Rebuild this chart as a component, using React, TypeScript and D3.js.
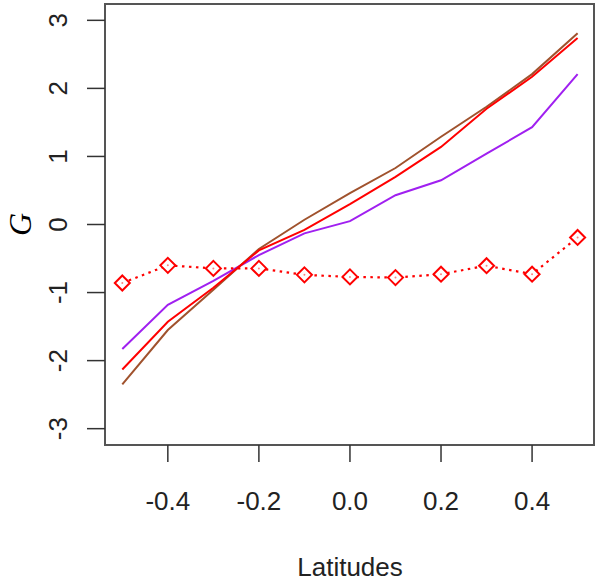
import React from 'react';
import * as d3 from 'd3';

const latitudes = [-0.5, -0.4, -0.3, -0.2, -0.1, 0.0, 0.1, 0.2, 0.3, 0.4, 0.5];
const purpleSeries = [-1.83, -1.18, -0.83, -0.45, -0.13, 0.05, 0.43, 0.65, 1.04, 1.43, 2.21];
const redSeries = [-2.13, -1.43, -0.93, -0.38, -0.08, 0.3, 0.7, 1.14, 1.7, 2.17, 2.74];
const brownSeries = [-2.35, -1.55, -0.96, -0.36, 0.07, 0.46, 0.83, 1.29, 1.73, 2.21, 2.81];
const dottedSeries = [-0.86, -0.6, -0.645, -0.645, -0.74, -0.77, -0.78, -0.73, -0.605, -0.73, -0.19];
const xTicks = [-0.4, -0.2, 0.0, 0.2, 0.4];
const yTicks = [-3, -2, -1, 0, 1, 2, 3];

const width = 600;
const height = 581;
const margin = { top: 4, right: 6, bottom: 136, left: 105 };

const App = () => {
  const x = d3.scaleLinear()
    .domain([-0.538, 0.536])
    .range([margin.left, width - margin.right]);
  const y = d3.scaleLinear()
    .domain([-3.24, 3.24])
    .range([height - margin.bottom, margin.top]);

  const line = d3.line<number>()
    .x((d, i) => x(latitudes[i]))
    .y(d => y(d));

  // R style labels use a plain hyphen for the minus sign
  const fmt = (t: number) => d3.format('.1f')(t).replace('\u2212', '-');
  const font = '"Liberation Sans", Arial, sans-serif';
  const bottom = height - margin.bottom;

  return (
    <svg width={width} height={height} style={{ position: 'absolute', left: 0, top: 0 }}>
      <rect x={0} y={0} width={width} height={height} fill='white' />
      <path d={line(purpleSeries) || ''} fill='none' stroke='#A020F0' strokeWidth={2} />
      <path d={line(brownSeries) || ''} fill='none' stroke='#A0522D' strokeWidth={2} />
      <path d={line(redSeries) || ''} fill='none' stroke='#FF0000' strokeWidth={2} />
      <path d={line(dottedSeries) || ''} fill='none' stroke='#FF0000' strokeWidth={2.2}
        strokeDasharray='2.5 4.5' />
      {dottedSeries.map((d, i) => (
        <g key={i} transform={`translate(${x(latitudes[i])},${y(d)})`}>
          <path d='M0,-7.5L7.5,0L0,7.5L-7.5,0Z' fill='white' stroke='#FF0000' strokeWidth={2} />
          <circle r={1} fill='#FF8080' />
        </g>
      ))}
      <rect x={margin.left} y={margin.top} width={width - margin.left - margin.right}
        height={bottom - margin.top} fill='none' stroke='#555' strokeWidth={2} />
      {xTicks.map(t => (
        <g key={t} transform={`translate(${x(t)},0)`}>
          <line y1={bottom} y2={bottom + 17} stroke='#333' strokeWidth={1.5} />
          <text y={510} textAnchor='middle' fontFamily={font} fontSize={26} fill='#222'>
            {fmt(t)}
          </text>
        </g>
      ))}
      {yTicks.map(t => (
        <g key={t} transform={`translate(0,${y(t)})`}>
          <line x1={margin.left - 18} x2={margin.left} stroke='#333' strokeWidth={1.5} />
          <text transform='translate(67,0) rotate(-90)' textAnchor='middle'
            fontFamily={font} fontSize={26} fill='#222'>{t}</text>
        </g>
      ))}
      <text x={350} y={576} textAnchor='middle' fontFamily={font} fontSize={26} fill='#222'>
        Latitudes
      </text>
      <text transform={`translate(31,${(margin.top + bottom) / 2}) rotate(-90)`}
        textAnchor='middle' fontFamily='"Liberation Serif", serif' fontStyle='italic'
        fontSize={32} fill='#000'>G</text>
    </svg>
  );
};

export default App;
